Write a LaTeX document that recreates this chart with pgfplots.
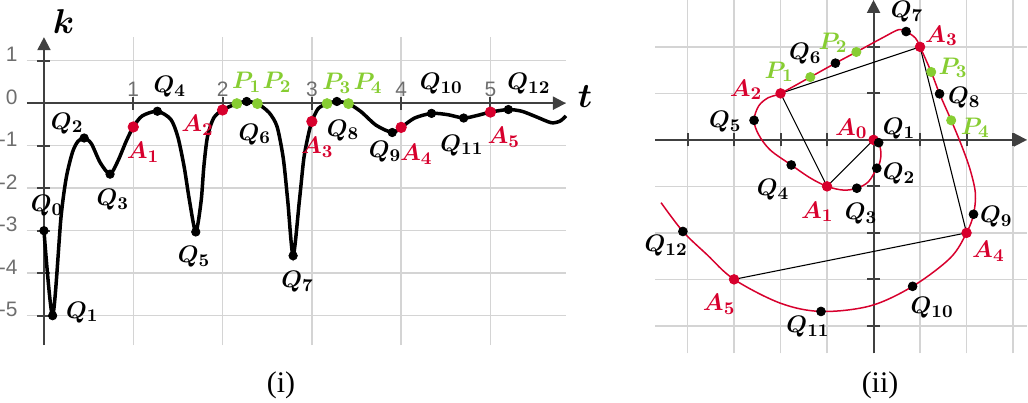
\documentclass[border=0pt]{standalone}
\usepackage{fontspec}
\setmainfont{Liberation Serif}
\setsansfont{Liberation Sans}
\usepackage{pgfplots}
\pgfplotsset{compat=1.18}
\usetikzlibrary{arrows.meta}

\definecolor{ptred}{RGB}{215,0,45}
\definecolor{ptgreen}{RGB}{135,205,50}
\definecolor{gridgray}{RGB}{212,212,212}
\definecolor{axisgray}{RGB}{64,64,64}
\definecolor{ticktext}{RGB}{110,110,110}

\pgfplotsset{
  panel/.style={
    anchor=south west, scale only axis,
    axis lines*=middle, clip=false,
    axis line style={axisgray, line width=1bp},
    x axis line style={-{Triangle[length=6.5bp,width=6.5bp]}},
    y axis line style={-{Triangle[length=6.5bp,width=6.5bp]}},
    grid=major, grid style={gridgray, line width=0.75bp},
    tick align=center, major tick length=6.5bp,
    tick style={axisgray, line width=1bp},
    hide obscured x ticks=false, hide obscured y ticks=false,
  },
}
\tikzset{lbl/.style={font=\fontsize{13}{15}\selectfont\boldmath, inner sep=0pt}}

\begin{document}
\begin{tikzpicture}
\path[use as bounding box] (0,0) rectangle (514bp,-201.5bp);

% (i) curvature k against arc parameter t
\begin{axis}[panel,
  at={(13.5bp,-172.5bp)},
  x=44.65bp, y=21.25bp,
  xmin=-0.19, xmax=5.845, ymin=-5.69, ymax=1.553,
  xtick={1,2,3,4,5}, ytick={-5,-4,-3,-2,-1,0,1},
  xticklabels={1,2,3,4,5},
  yticklabels={-5,-4,-3,-2,-1,0,1},
  ticklabel style={font=\fontsize{10.5}{12}\sffamily, text=ticktext},
  xticklabel style={anchor=base, yshift=6.5bp},
  yticklabel style={anchor=base east, xshift=-6.5bp, yshift=-0.5bp},
]
\addplot[black, line width=1.75bp, smooth, tension=0.45] coordinates {
  (0,-3) (0.097,-5) (0.19,-2.7) (0.25,-1.75) (0.32,-1.15) (0.38,-0.9)
  (0.45,-0.82) (0.53,-0.95) (0.63,-1.4) (0.74,-1.67) (0.83,-1.35) (0.92,-0.9)
  (1.0,-0.56) (1.1,-0.3) (1.27,-0.19) (1.42,-0.38) (1.50,-0.8) (1.57,-1.5)
  (1.63,-2.3) (1.70,-3.03) (1.76,-2.3) (1.79,-1.5) (1.83,-0.8) (1.9,-0.35)
  (2.0,-0.16) (2.16,-0.01) (2.27,0.04) (2.39,-0.01) (2.52,-0.22) (2.61,-0.55)
  (2.68,-1.3) (2.73,-2.3) (2.79,-3.59) (2.86,-2.3) (2.91,-1.3) (2.96,-0.75)
  (3.0,-0.43) (3.07,-0.13) (3.17,-0.01) (3.28,0.04) (3.41,-0.01) (3.55,-0.2)
  (3.72,-0.52) (3.9,-0.69) (4.0,-0.57) (4.15,-0.35) (4.34,-0.24) (4.52,-0.27)
  (4.70,-0.35) (4.85,-0.29) (5.0,-0.21) (5.2,-0.15) (5.35,-0.19) (5.5,-0.31)
  (5.68,-0.46) (5.78,-0.42) (5.845,-0.30)
};
\addplot[only marks, mark=*, mark size=2.1bp, black] coordinates {
  (0,-3) (0.097,-5) (0.45,-0.82) (0.74,-1.67) (1.27,-0.19) (1.70,-3.03)
  (2.27,0.04) (2.79,-3.59) (3.28,0.04) (3.9,-0.69) (4.34,-0.24) (4.70,-0.35)
  (5.2,-0.15)
};
\addplot[only marks, mark=*, mark size=2.6bp, ptred] coordinates {
  (1.0,-0.56) (2.0,-0.16) (3.0,-0.43) (4.0,-0.57) (5.0,-0.21)
};
\addplot[only marks, mark=*, mark size=2.5bp, ptgreen] coordinates {
  (2.16,-0.01) (2.39,-0.01) (3.17,-0.01) (3.41,-0.01)
};
\node[font=\fontsize{18}{20}\selectfont\boldmath] at (axis cs:0.22,1.91) {$k$};
\node[font=\fontsize{18}{20}\selectfont\boldmath] at (axis cs:6.06,0.16) {$t$};
\node[lbl] at (axis cs:0.034,-2.42) {$Q_{0}$};
\node[lbl] at (axis cs:0.43,-4.92) {$Q_{1}$};
\node[lbl] at (axis cs:0.26,-0.47) {$Q_{2}$};
\node[lbl] at (axis cs:0.77,-2.28) {$Q_{3}$};
\node[lbl] at (axis cs:1.41,0.38) {$Q_{4}$};
\node[lbl] at (axis cs:1.68,-3.62) {$Q_{5}$};
\node[lbl] at (axis cs:2.36,-0.73) {$Q_{6}$};
\node[lbl] at (axis cs:2.84,-4.21) {$Q_{7}$};
\node[lbl] at (axis cs:3.35,-0.64) {$Q_{8}$};
\node[lbl] at (axis cs:3.82,-1.15) {$Q_{9}$};
\node[lbl] at (axis cs:4.45,0.45) {$Q_{10}$};
\node[lbl] at (axis cs:4.68,-0.99) {$Q_{11}$};
\node[lbl] at (axis cs:5.43,0.45) {$Q_{12}$};
\node[lbl, text=ptred] at (axis cs:1.11,-1.15) {$A_{1}$};
\node[lbl, text=ptred] at (axis cs:1.72,-0.52) {$A_{2}$};
\node[lbl, text=ptred] at (axis cs:3.06,-1.04) {$A_{3}$};
\node[lbl, text=ptred] at (axis cs:4.17,-1.2) {$A_{4}$};
\node[lbl, text=ptred] at (axis cs:5.15,-0.8) {$A_{5}$};
\node[lbl, text=ptgreen] at (axis cs:2.27,0.49) {$P_{1}$};
\node[lbl, text=ptgreen] at (axis cs:2.61,0.49) {$P_{2}$};
\node[lbl, text=ptgreen] at (axis cs:3.28,0.47) {$P_{3}$};
\node[lbl, text=ptgreen] at (axis cs:3.63,0.47) {$P_{4}$};
\end{axis}

% (ii) the plane curve with its vertices A and sample points
\begin{axis}[panel,
  at={(327.5bp,-176.65bp)},
  x=23.25bp, y=23.25bp,
  xmin=-4.7, xmax=3.3, ymin=-4.59, ymax=3.01,
  xtick={-4,-3,-2,-1,0,1,2,3}, ytick={-4,-3,-2,-1,0,1,2},
  xticklabels={}, yticklabels={},
]
\addplot[black, line width=0.55bp] coordinates {
  (0,0) (-1,-1) (-2,1) (1,2) (2,-2) (-3,-3)
};
\addplot[ptred, line width=0.75bp, smooth, tension=0.55] coordinates {
  (0,0) (0.11,-0.06) (0.16,-0.29) (0.13,-0.50) (0.07,-0.61) (-0.11,-0.90)
  (-0.36,-1.04) (-0.65,-1.08) (-1,-1) (-1.36,-0.82) (-1.77,-0.54) (-2.22,-0.22)
  (-2.47,0.11) (-2.57,0.42) (-2.47,0.73) (-2.26,0.91) (-2,1) (-1.36,1.35)
  (-0.82,1.65) (-0.37,1.89) (0.22,2.21) (0.54,2.37) (0.70,2.33) (0.90,2.19)
  (1,2) (1.24,1.46) (1.42,0.99) (1.67,0.42) (1.90,-0.14) (2.08,-0.65)
  (2.19,-1.15) (2.15,-1.60) (2,-2) (1.65,-2.54) (0.84,-3.15) (-0.07,-3.57)
  (-1.13,-3.69) (-2.01,-3.51) (-3,-3) (-3.58,-2.47) (-4.10,-1.97) (-4.57,-1.35)
};
\addplot[only marks, mark=*, mark size=2.4bp, ptred] coordinates {
  (0,0) (-1,-1) (-2,1) (1,2) (2,-2) (-3,-3)
};
\addplot[only marks, mark=*, mark size=2.2bp, black] coordinates {
  (0.11,-0.06) (0.07,-0.61) (-0.36,-1.04) (-1.77,-0.54) (-2.57,0.42)
  (-0.82,1.65) (0.70,2.33) (1.42,0.99) (2.15,-1.60) (0.84,-3.15)
  (-1.13,-3.69) (-4.10,-1.97)
};
\addplot[only marks, mark=*, mark size=2.3bp, ptgreen] coordinates {
  (-1.36,1.35) (-0.37,1.89) (1.24,1.46) (1.67,0.42)
};
\node[lbl] at (axis cs:0.55,0.24) {$Q_{1}$};
\node[lbl] at (axis cs:0.55,-0.73) {$Q_{2}$};
\node[lbl] at (axis cs:-0.27,-1.59) {$Q_{3}$};
\node[lbl] at (axis cs:-2.16,-1.08) {$Q_{4}$};
\node[lbl] at (axis cs:-3.19,0.39) {$Q_{5}$};
\node[lbl] at (axis cs:-1.47,1.85) {$Q_{6}$};
\node[lbl] at (axis cs:0.72,2.75) {$Q_{7}$};
\node[lbl] at (axis cs:1.95,0.9) {$Q_{8}$};
\node[lbl] at (axis cs:2.64,-1.66) {$Q_{9}$};
\node[lbl] at (axis cs:1.26,-3.61) {$Q_{10}$};
\node[lbl] at (axis cs:-1.41,-4.02) {$Q_{11}$};
\node[lbl] at (axis cs:-4.46,-2.28) {$Q_{12}$};
\node[lbl, text=ptred] at (axis cs:-0.48,0.24) {$A_{0}$};
\node[lbl, text=ptred] at (axis cs:-1.21,-1.55) {$A_{1}$};
\node[lbl, text=ptred] at (axis cs:-2.74,1.08) {$A_{2}$};
\node[lbl, text=ptred] at (axis cs:1.46,2.24) {$A_{3}$};
\node[lbl, text=ptred] at (axis cs:2.47,-2.39) {$A_{4}$};
\node[lbl, text=ptred] at (axis cs:-3.32,-3.53) {$A_{5}$};
\node[lbl, text=ptgreen] at (axis cs:-2.03,1.46) {$P_{1}$};
\node[lbl, text=ptgreen] at (axis cs:-0.87,2.09) {$P_{2}$};
\node[lbl, text=ptgreen] at (axis cs:1.71,1.55) {$P_{3}$};
\node[lbl, text=ptgreen] at (axis cs:2.19,0.26) {$P_{4}$};
\end{axis}

\node[font=\fontsize{15}{17}\selectfont] at (140.5bp,-192.5bp) {(i)};
\node[font=\fontsize{15}{17}\selectfont] at (440bp,-192.5bp) {(ii)};
\end{tikzpicture}
\end{document}
